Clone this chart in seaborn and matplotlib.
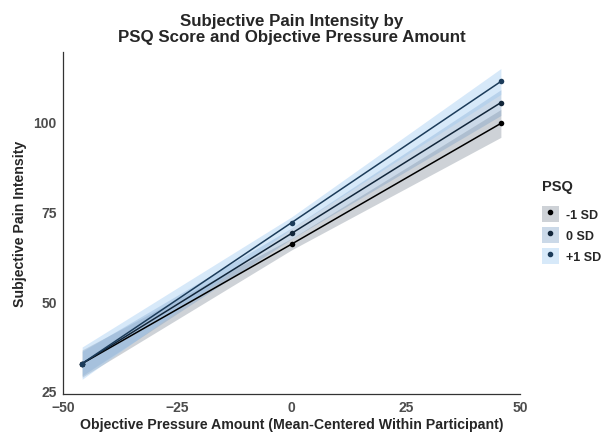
import matplotlib
matplotlib.use("Agg")
import matplotlib.pyplot as plt
import seaborn as sns
import pandas as pd
from matplotlib.lines import Line2D
from matplotlib.patches import Patch

# Values
pressure = [-45.8, 0.0, 45.8]
groups = ["-1 SD", "0 SD", "+1 SD"]
pain_low = [32.6, 65.9, 99.6]
pain_mid = [32.6, 68.9, 105.4]
pain_high = [32.6, 71.9, 111.3]
lower_low = [28.8, 64.3, 95.7]
upper_low = [36.4, 67.5, 103.5]
lower_mid = [29.2, 67.4, 101.8]
upper_mid = [36.0, 70.4, 109.0]
lower_high = [28.2, 70.3, 107.7]
upper_high = [37.2, 73.5, 114.9]

line_colors = {"-1 SD": "#000000", "0 SD": "#12263a", "+1 SD": "#1c3c5a"}
fill_colors = {"-1 SD": "#86909c", "0 SD": "#7fa2c6", "+1 SD": "#9cc8f2"}

rows = []
for g, ys, lo, hi in zip(groups, [pain_low, pain_mid, pain_high],
                         [lower_low, lower_mid, lower_high],
                         [upper_low, upper_mid, upper_high]):
    for x, y, l, h in zip(pressure, ys, lo, hi):
        rows.append({"pressure": x, "pain": y, "lower": l, "upper": h, "PSQ": g})
df = pd.DataFrame(rows)

sns.set_style("white")
plt.rcParams["font.family"] = ["Liberation Sans", "DejaVu Sans"]

fig = plt.figure(figsize=(6.09, 4.35), dpi=100)
ax = fig.add_axes([0.1034, 0.092, 0.7506, 0.786])

for g in groups:
    sub = df[df["PSQ"] == g]
    ax.fill_between(sub["pressure"], sub["lower"], sub["upper"],
                    color=fill_colors[g], alpha=0.4, linewidth=0)

sns.lineplot(data=df, x="pressure", y="pain", hue="PSQ", palette=line_colors,
             marker="o", markersize=4, markeredgewidth=0, linewidth=1.1,
             legend=False, ax=ax)

ax.set_xlim(-50, 50)
ax.set_ylim(24.1, 119.5)
ax.set_xticks([-50, -25, 0, 25, 50])
ax.set_yticks([25, 50, 75, 100])
ax.tick_params(axis="both", direction="out", length=3, width=0.8,
               color="#333333", labelsize=10, labelcolor="#4d4d4d", pad=1.5)
for lab in ax.get_xticklabels() + ax.get_yticklabels():
    lab.set_fontweight("bold")
for side in ["top", "right"]:
    ax.spines[side].set_visible(False)
for side in ["left", "bottom"]:
    ax.spines[side].set_color("#333333")
    ax.spines[side].set_linewidth(0.9)

ax.set_xlabel("Objective Pressure Amount (Mean-Centered Within Participant)",
              fontsize=10.2, fontweight="bold", labelpad=2)
ax.set_ylabel("Subjective Pain Intensity", fontsize=10.2, fontweight="bold",
              labelpad=5)
ax.set_title("Subjective Pain Intensity by\nPSQ Score and Objective Pressure Amount",
             fontsize=12.2, fontweight="bold", linespacing=1.05, pad=8)

handles = []
for g in groups:
    handles.append((Patch(facecolor=fill_colors[g], alpha=0.4, edgecolor="none"),
                    Line2D([], [], color=line_colors[g], marker="o", markersize=3,
                           linestyle="none")))
leg = fig.legend(handles, groups, title="PSQ", loc="center left",
                 bbox_to_anchor=(0.872, 0.488), frameon=False, fontsize=9,
                 title_fontsize=10.5, handlelength=1.3, handleheight=1.65,
                 handletextpad=0.6, labelspacing=0.35)
leg.get_title().set_fontweight("bold")
leg._legend_box.align = "left"
leg._legend_box.sep = 9
for t in leg.get_texts():
    t.set_fontweight("bold")

fig.savefig("out.png", dpi=100)
